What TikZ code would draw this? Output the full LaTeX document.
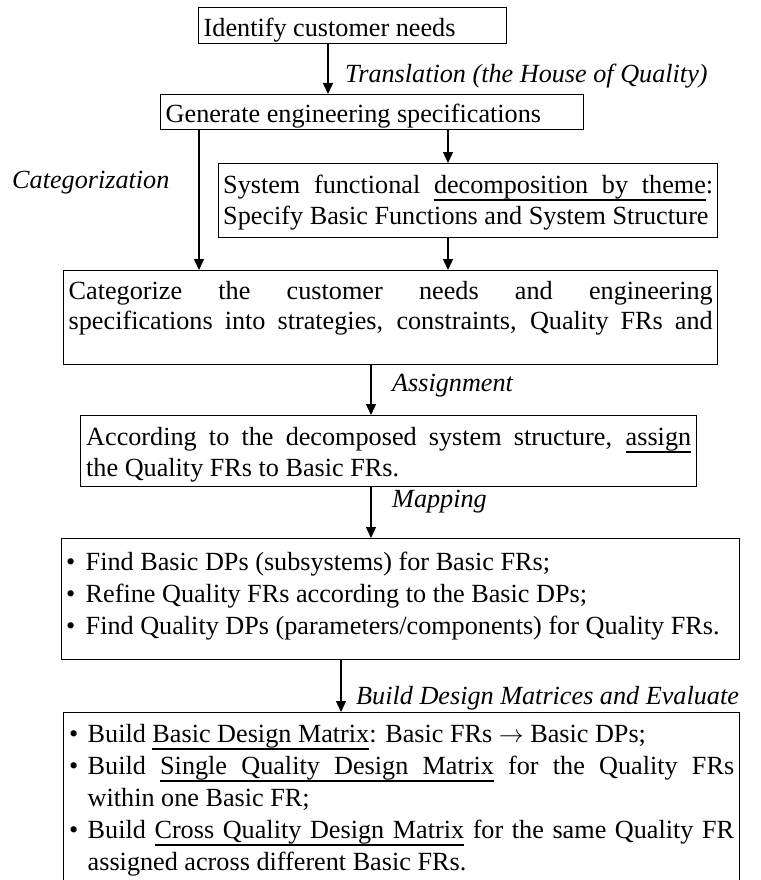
\documentclass[tikz,border=0pt]{standalone}
\usepackage{fontspec}
\setmainfont{Liberation Serif}
\usetikzlibrary{arrows.meta}
% underlined word and stretchable underlined space
\newcommand{\myu}[1]{\setbox0\hbox{#1}\rlap{\rule[-7pt]{\wd0}{1.3pt}}\box0\relax}
\newcommand{\ulsp}{\leaders\hrule height -5.7pt depth 7pt\hskip\fontdimen2\font plus\fontdimen3\font minus\fontdimen4\font\relax}
% #1 width, #2 height, #3 first baseline offset, #4 baselineskip, #5 text
\newcommand{\bxt}[5]{\parbox[c][#2][t]{#1}{\fontsize{26.2pt}{#4}\selectfont\hyphenpenalty=10000\exhyphenpenalty=10000\rule{0pt}{#3}#5}}
\newcommand{\itm}[2]{\noindent\hangindent=#1\hangafter=1\makebox[#1][l]{\textbullet}#2\par}
\begin{document}
\begin{tikzpicture}[x=1pt,y=-1pt,
  font=\fontsize{26.2pt}{32pt}\selectfont,
  box/.style={draw, line width=1.4pt, inner xsep=#1, inner ysep=0pt, anchor=north west},
  box/.default=5pt,
  arr/.style={line width=1.3pt, -{Triangle[length=11pt,width=10pt]}},
  lbl/.style={font=\fontsize{26.2pt}{32pt}\selectfont\itshape, inner sep=0pt, anchor=base west}]
\useasboundingbox (0,0) rectangle (760,880);
\clip (0,0) rectangle (760,880);

\node[box] (b1) at (198,7) {\bxt{298pt}{36pt}{29pt}{32pt}{Identify customer needs}};
\node[box] (b2) at (160,94) {\bxt{413pt}{35pt}{28pt}{32pt}{Generate engineering specifications}};
\node[box=4.5pt] (b3) at (218,163) {\bxt{490pt}{74pt}{30pt}{31pt}{System functional \myu{decomposition}\ulsp\myu{by}\ulsp\myu{theme}:\linebreak Specify Basic Functions and System Structure}};
\node[box] (b4) at (63,270) {\bxt{644pt}{94pt}{29pt}{30pt}{\parfillskip=0pt Categorize the customer needs and engineering\linebreak specifications into strategies, constraints, Quality FRs and}};
\node[box=5.5pt] (b5) at (80,415) {\bxt{605pt}{71pt}{30pt}{31pt}{According to the decomposed system structure, \myu{assign}\linebreak the Quality FRs to Basic FRs.}};
\node[box=4.5pt] (b6) at (61,538) {\bxt{669pt}{121pt}{32pt}{32pt}{%
\itm{19.5pt}{Find Basic DPs (subsystems) for Basic FRs;}%
\itm{19.5pt}{Refine Quality FRs according to the Basic DPs;}%
\itm{19.5pt}{Find Quality DPs (parameters/components) for Quality FRs.}}};
\node[box=5.5pt] (b7) at (63,712) {\bxt{665pt}{190pt}{30pt}{32pt}{%
\itm{18.5pt}{Build \myu{Basic}\ulsp\myu{Design}\ulsp\myu{Matrix}: Basic FRs $\rightarrow$ Basic DPs;}%
\itm{18.5pt}{Build \myu{Single}\ulsp\myu{Quality}\ulsp\myu{Design}\ulsp\myu{Matrix} for the Quality FRs\linebreak within one Basic FR;}%
\itm{18.5pt}{Build \myu{Cross}\ulsp\myu{Quality}\ulsp\myu{Design}\ulsp\myu{Matrix} for the same Quality FR\linebreak assigned across different Basic FRs.}}};

\node[lbl] (t1) at (345,83) {Translation (the House of Quality)};
\node[lbl] (t2) at (12,188) {Categorization};
\node[lbl] (t3) at (392,391) {Assignment};
\node[lbl] (t4) at (392,507) {Mapping};
\node[lbl] (t5) at (356,704) {Build Design Matrices and Evaluate};

\coordinate (xa) at (328,0);
\coordinate (xb) at (448,0);
\coordinate (xc) at (199,0);
\coordinate (xd) at (371,0);
\coordinate (xe) at (341,0);

\draw[arr] (xa |- b1.south) -- (xa |- b2.north);
\draw[arr] (xb |- b2.south) -- (xb |- b3.north);
\draw[arr] (xc |- b2.south) -- (xc |- b4.north);
\draw[arr] (xb |- b3.south) -- (xb |- b4.north);
\draw[arr] (xd |- b4.south) -- (xd |- b5.north);
\draw[arr] (xd |- b5.south) -- (xd |- b6.north);
\draw[arr] (xe |- b6.south) -- (xe |- b7.north);
\end{tikzpicture}
\end{document}
